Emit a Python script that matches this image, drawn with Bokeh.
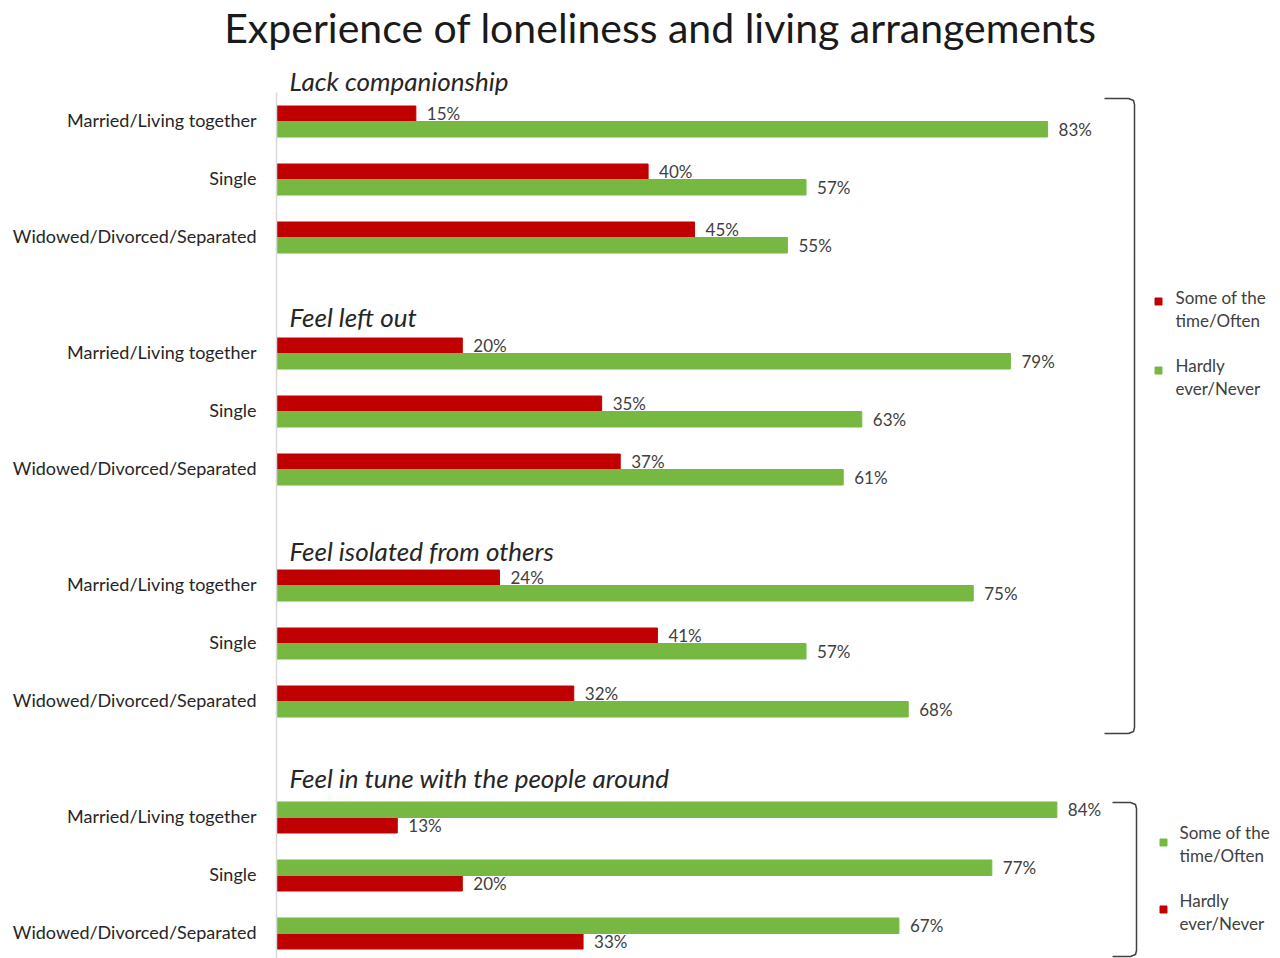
from bokeh.plotting import figure
from bokeh.models import Range1d, ColumnDataSource
from bokeh.core.properties import value
from bokeh.embed import file_html
from bokeh.resources import INLINE

# ---------------- data ----------------
chart_title = "Experience of loneliness and living arrangements"
sections = ["Lack companionship", "Feel left out", "Feel isolated from others",
            "Feel in tune with the people around"]
groups = ["Married/Living together", "Single", "Widowed/Divorced/Separated"]
red_values = [[15, 40, 45], [20, 35, 37], [24, 41, 32], [13, 20, 33]]
green_values = [[83, 57, 55], [79, 63, 61], [75, 57, 68], [84, 77, 67]]
red_on_top = [True, True, True, False]
legend_top = ["Some of the time/Often", "Hardly ever/Never"]  # red, green
legend_bottom = ["Some of the time/Often", "Hardly ever/Never"]  # green, red

RED = "#C00000"
GREEN = "#77B843"
TXT = "#404040"
FONT = "Lato"

# ---------------- geometry ----------------
W, H = 1280, 958
PXU = 9.29      # pixels per percent
ROW = 58.0      # pixels per row
ROW0 = 121.0    # pixel y of first row
AX0 = 276.0     # pixel x of value 0

def dx(px):
    return (px - AX0) / PXU

def dy(py):
    return (py - ROW0) / ROW

BH = 15.5 / ROW

p = figure(width=W, height=H, output_backend="svg", toolbar_location=None,
           x_axis_location=None, y_axis_location=None,
           min_border_left=0, min_border_right=0,
           min_border_top=0, min_border_bottom=0,
           x_range=Range1d(dx(0), dx(W)),
           y_range=Range1d(dy(H), dy(0)))
p.outline_line_color = None
p.xgrid.visible = False
p.ygrid.visible = False
p.background_fill_color = "white"
p.border_fill_color = "white"

# bars
ys, rights, colors = [], [], []
lab_x, lab_y, lab_t = [], [], []
cat_y, cat_t = [], []
for s in range(len(sections)):
    for g in range(len(groups)):
        row = 4 * s + g
        cat_y.append(row)
        cat_t.append(groups[g])
        off = BH / 2
        ry = row - off if red_on_top[s] else row + off
        gy = row + off if red_on_top[s] else row - off
        for yy, v, c in ((ry, red_values[s][g], RED), (gy, green_values[s][g], GREEN)):
            ys.append(yy); rights.append(v); colors.append(c)
            lab_x.append(v); lab_y.append(yy); lab_t.append(f"{v}%")

p.hbar(y="y", left=0, right="right", height=BH, color="color",
       source=ColumnDataSource(dict(y=ys, right=rights, color=colors)))
p.text(x="x", y="y", text="t", source=ColumnDataSource(dict(x=lab_x, y=lab_y, t=lab_t)),
       x_offset=11, text_baseline="middle", text_align="left",
       text_font=value(FONT), text_font_size="17px", text_color=TXT)

# left vertical line (category axis line)
p.segment(x0=[0], x1=[0], y0=[dy(92)], y1=[dy(H)], line_color="#D9D9D9", line_width=1.5)

# category labels
p.text(x=[0] * len(cat_y), y=[c - 0.02 for c in cat_y], text=cat_t, x_offset=-20,
       text_align="right", text_baseline="middle", text_font=value(FONT),
       text_font_size="18px", text_color="#262626")

# title
p.text(x=[dx(660)], y=[dy(27)], text=[chart_title], text_align="center",
       text_baseline="middle", text_font=value(FONT), text_font_size="41px",
       text_color="#1A1A1A")

# section titles
sec_py = [80, 316, 550, 777]
p.text(x=[dx(289)] * 4, y=[dy(v) for v in sec_py], text=sections,
       text_align="left", text_baseline="middle", text_font=value(FONT),
       text_font_size="26px", text_font_style="italic", text_color="#262626")

# brackets
def bracket(x0, x1, y0, y1):
    xs = [x0, x1 - 6, x1 - 1, x1, x1, x1 - 1, x1 - 6, x0]
    yv = [y0, y0, y0 + 2, y0 + 6, y1 - 6, y1 - 2, y1, y1]
    p.line([dx(v) for v in xs], [dy(v) for v in yv], line_color="#404040", line_width=1.5)

bracket(1104, 1134, 98, 733)
bracket(1112, 1136, 802, 956)

# legends
def legend(sx, tx, entries):
    for (col, label, sq_py, t_py) in entries:
        p.scatter([dx(sx)], [dy(sq_py)], marker="square", size=7, color=col)
        words = label.split(" ")
        first = " ".join(words[:-1]) if len(words) > 2 else words[0]
        second = words[-1] if len(words) > 2 else " ".join(words[1:])
        p.text(x=[dx(tx), dx(tx)], y=[dy(t_py), dy(t_py + 23)], text=[first, second],
               text_align="left", text_baseline="middle", text_font=value(FONT),
               text_font_size="17px", text_color=TXT)

legend(1158, 1175, [(RED, legend_top[0], 301, 297), (GREEN, legend_top[1], 370, 365)])
legend(1163, 1179, [(GREEN, legend_bottom[0], 842, 832), (RED, legend_bottom[1], 909, 900)])

open("out.html", "w").write(file_html(p, INLINE))
